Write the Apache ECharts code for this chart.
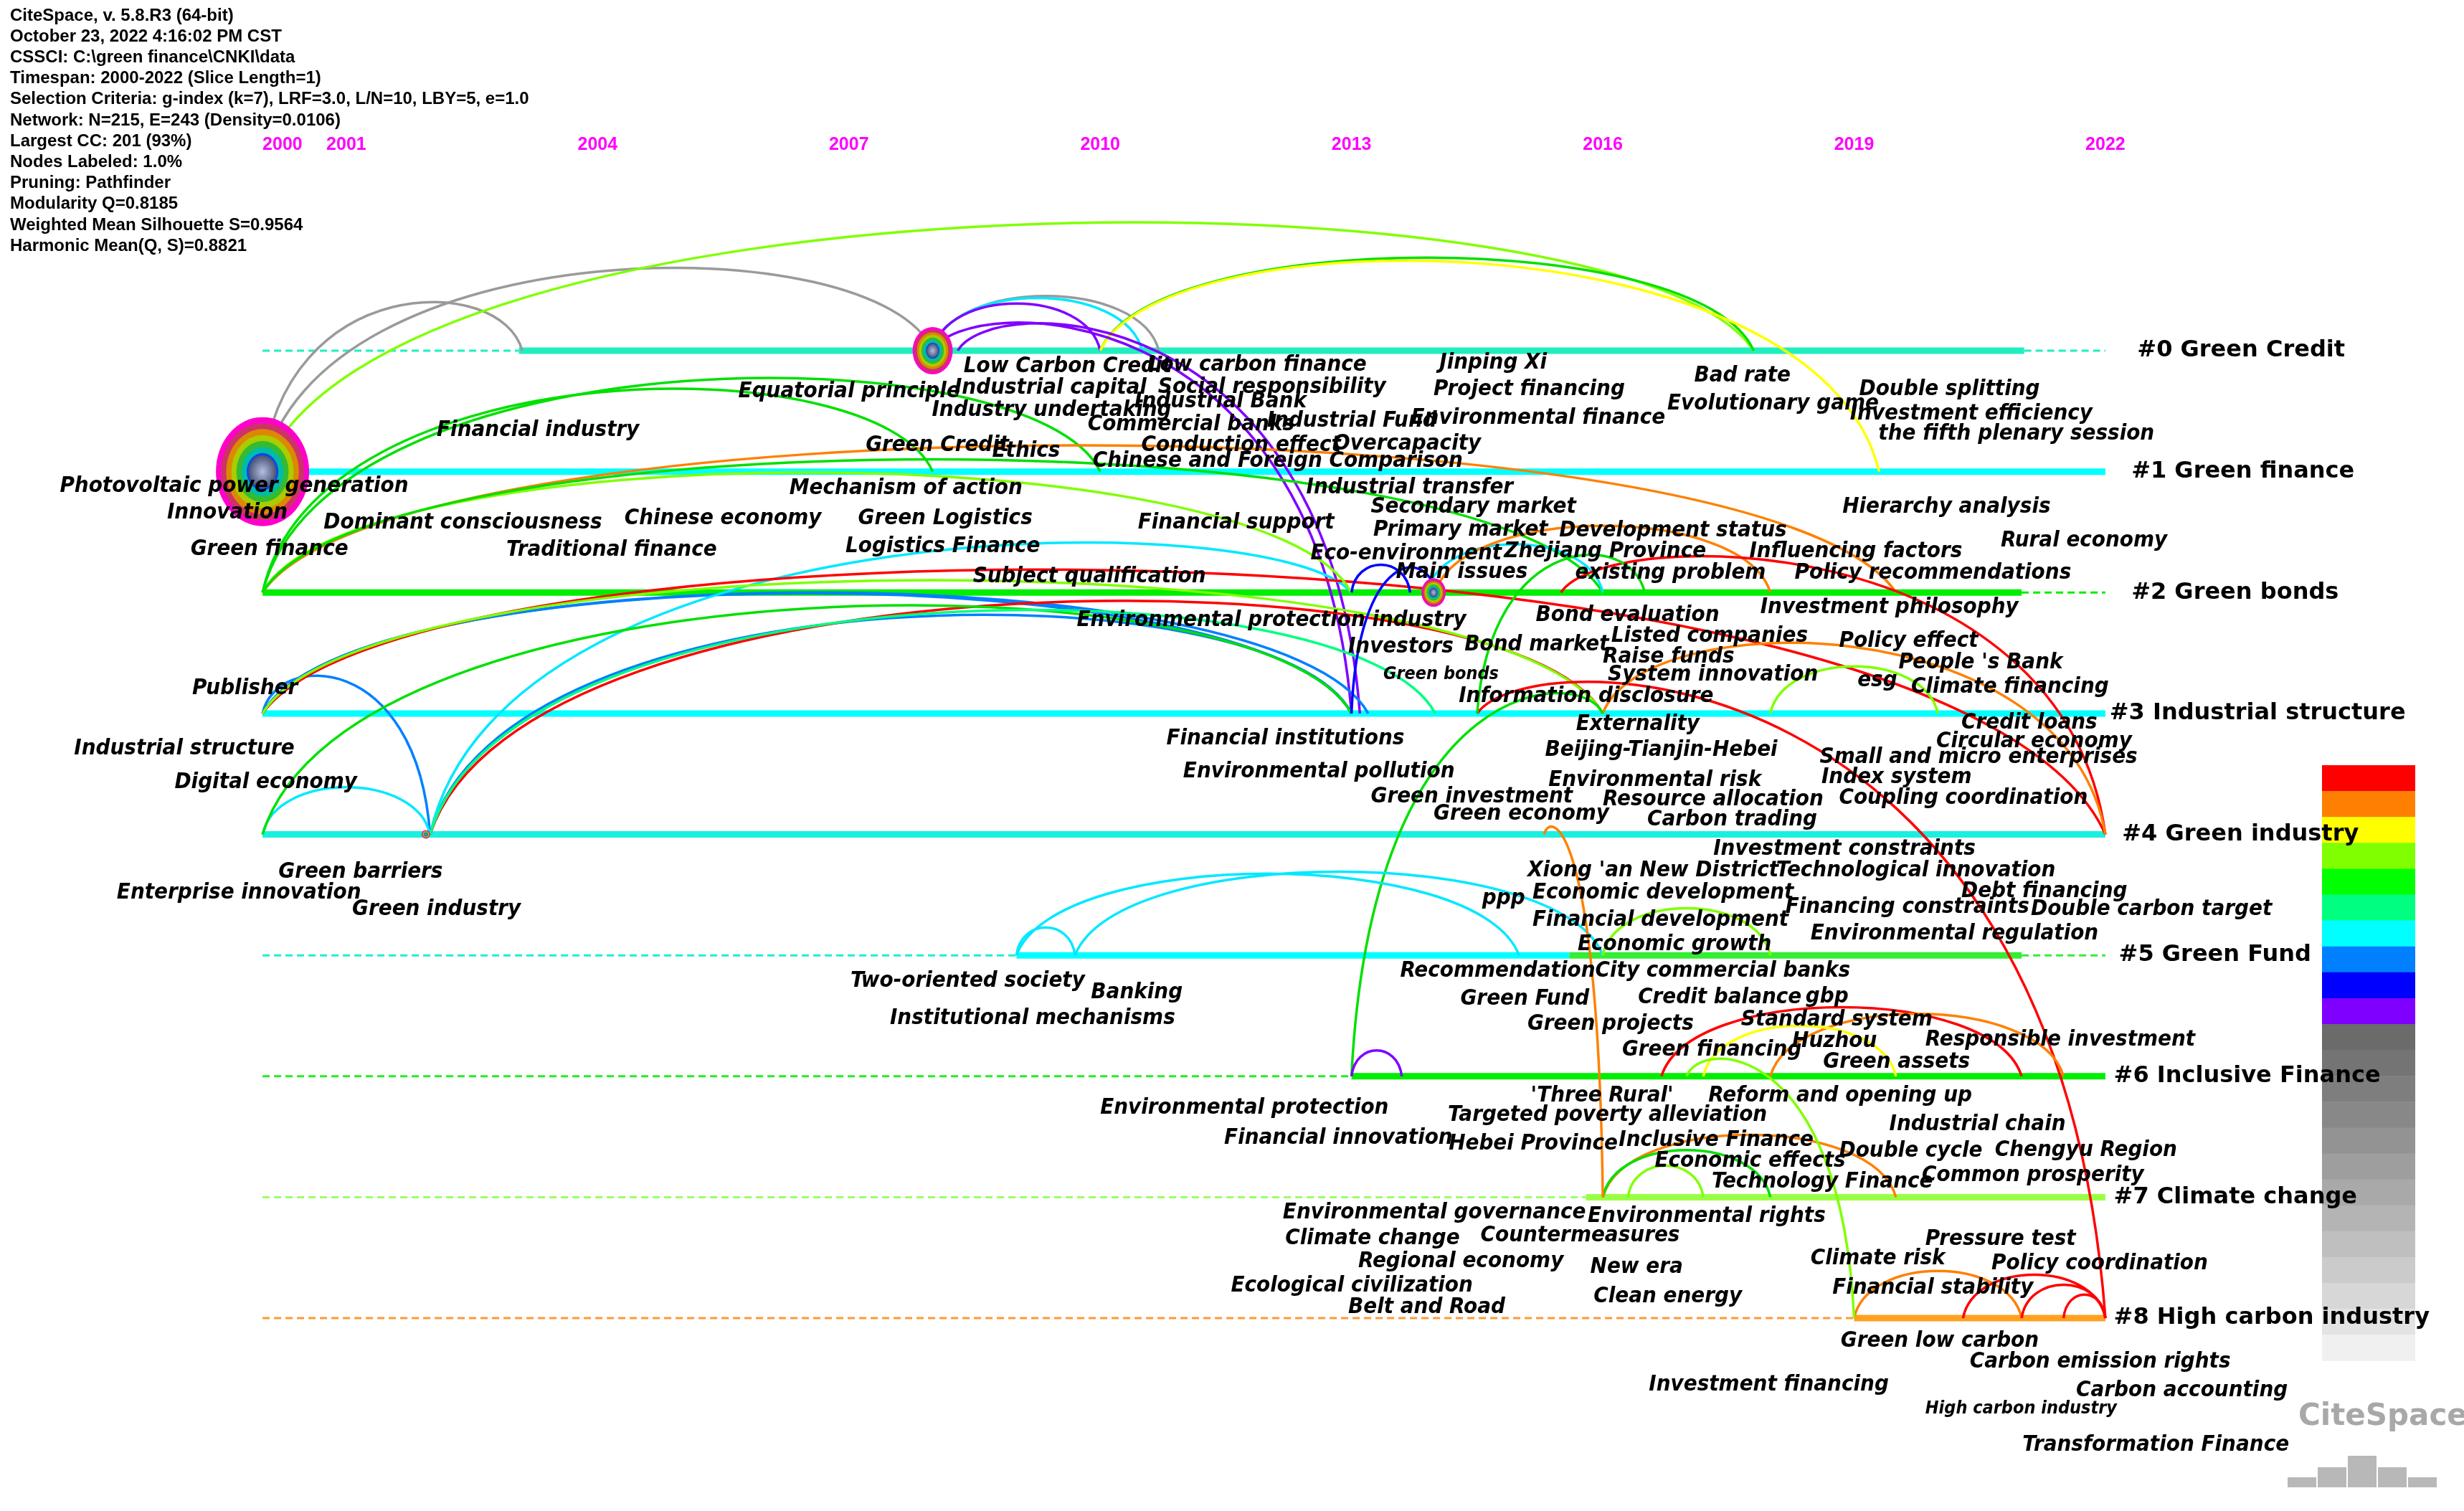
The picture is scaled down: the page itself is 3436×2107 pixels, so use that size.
<!DOCTYPE html>
<html><head><meta charset="utf-8">
<script src="https://cdn.jsdelivr.net/npm/echarts@6/dist/echarts.min.js"></script>
<style>html,body{margin:0;padding:0;background:#fff}#c{width:3436px;height:2107px}</style>
</head><body><div id="c"></div>
<script>
// ---------- DATA ----------
const headerLines = [
 "CiteSpace, v. 5.8.R3 (64-bit)",
 "October 23, 2022 4:16:02 PM CST",
 "CSSCI: C:\\green finance\\CNKI\\data",
 "Timespan: 2000-2022 (Slice Length=1)",
 "Selection Criteria: g-index (k=7), LRF=3.0, L/N=10, LBY=5, e=1.0",
 "Network: N=215, E=243 (Density=0.0106)",
 "Largest CC: 201 (93%)",
 "Nodes Labeled: 1.0%",
 "Pruning: Pathfinder",
 "Modularity Q=0.8185",
 "Weighted Mean Silhouette S=0.9564",
 "Harmonic Mean(Q, S)=0.8821"
];
const yearTicks = [2000, 2001, 2004, 2007, 2010, 2013, 2016, 2019, 2022];
const yearTickRow = -1.70;
const clusterNames = ["#0 Green Credit","#1 Green finance","#2 Green bonds","#3 Industrial structure","#4 Green industry","#5 Green Fund","#6 Inclusive Finance","#7 Climate change","#8 High carbon industry"];
const clusterLabelYear = [2022.38, 2022.31, 2022.31, 2022.05, 2022.2, 2022.16, 2022.1, 2022.1, 2022.1];
// timeline segments: [cluster, startYear, endYear, colour, dashed]
const timelineSegs = [
 [0,2000,2003.06,'#1fefbf',1],[0,2003.06,2021.03,'#1fefbf',0],[0,2021.03,2022,'#1fefbf',1],
 [1,2000,2022,'#00ffff',0],
 [2,2000,2021,'#00ee00',0],[2,2021,2022,'#00ee00',1],
 [3,2000,2022,'#00ffff',0],
 [4,2000,2022,'#19f0e0',0],
 [5,2000,2009.0,'#19f0d0',1],[5,2009.0,2015.6,'#00ffff',0],[5,2015.6,2021,'#33ee33',0],[5,2021,2022,'#33ee33',1],
 [6,2000,2013.0,'#22ee22',1],[6,2013.0,2022,'#00ee00',0],
 [7,2000,2015.8,'#99ff66',1],[7,2015.8,2022,'#99ff44',0],
 [8,2000,2019.0,'#ff9933',1],[8,2019.0,2022,'#ffa020',0]
];
// nodes: [year, cluster, width, height]
const nodes = [
 [2000, 1, 130, 152],
 [2008, 0, 56, 66],
 [2013.98, 2, 34, 40],
 [2001.95, 4, 12, 12]
];
// keyword labels: [text, year, clusterPos, small]
const keywords = [
 ["Low Carbon Credit",2008.37,0.13],["Low carbon finance",2010.56,0.12],["Jinping Xi",2014.05,0.10],
 ["Industrial capital",2008.26,0.31],["Social responsibility",2010.69,0.30],["Project financing",2013.98,0.32],
 ["Equatorial principle",2005.68,0.34],["Industry undertaking",2007.99,0.49],["Industrial Bank",2010.41,0.42],
 ["Bad rate",2017.09,0.21],["Evolutionary game",2016.77,0.44],["Double splitting",2019.06,0.32],
 ["Investment efficiency",2018.95,0.52],["the fifth plenary session",2019.29,0.69],["Commercial banks",2009.85,0.61],
 ["Industrial Fund",2011.99,0.58],["Environmental finance",2013.71,0.56],["Financial industry",2002.08,0.66],
 ["Conduction effect",2010.49,0.78],["Overcapacity",2012.78,0.77],["Green Credit",2007.20,0.78],
 ["Ethics",2008.71,0.83],["Chinese and Foreign Comparison",2009.91,0.91],
 ["Photovoltaic power generation",1997.58,1.12],["Innovation",1998.86,1.34],["Mechanism of action",2006.29,1.14],
 ["Industrial transfer",2012.46,1.13],["Secondary market",2013.23,1.29],["Hierarchy analysis",2018.86,1.29],
 ["Dominant consciousness",2000.73,1.42],["Chinese economy",2004.32,1.39],["Green Logistics",2007.11,1.39],
 ["Financial support",2010.45,1.42],["Primary market",2013.26,1.48],["Development status",2015.48,1.49],
 ["Green finance",1999.14,1.64],["Traditional finance",2002.91,1.65],["Logistics Finance",2006.96,1.62],
 ["Eco-environment",2012.51,1.68],["Zhejiang Province",2014.82,1.66],["Influencing factors",2017.75,1.66],
 ["Rural economy",2020.75,1.57],["Main issues",2013.53,1.83],["existing problem",2015.67,1.84],
 ["Policy recommendations",2018.29,1.84],["Subject qualification",2008.48,1.87],
 ["Investment philosophy",2017.88,2.12],["Bond evaluation",2015.20,2.19],["Environmental protection industry",2009.72,2.23],
 ["Listed companies",2016.10,2.36],["Policy effect",2018.82,2.40],["Investors",2012.96,2.45],
 ["Bond market",2014.35,2.43],["Raise funds",2016.00,2.53],["People 's Bank",2019.53,2.58],
 ["Green bonds",2013.38,2.68,1],["System innovation",2016.06,2.68],["esg",2019.04,2.73],
 ["Climate financing",2019.68,2.78],["Publisher",1999.16,2.79],["Information disclosure",2014.28,2.86],
 ["Credit loans",2020.28,3.08],["Externality",2015.68,3.09],["Financial institutions",2010.79,3.21],
 ["Circular economy",2019.98,3.23],["Industrial structure",1997.75,3.29],["Beijing-Tianjin-Hebei",2015.31,3.30],
 ["Small and micro enterprises",2018.59,3.36],["Environmental pollution",2010.99,3.48],["Index system",2018.61,3.53],
 ["Environmental risk",2015.35,3.55],["Digital economy",1998.95,3.57],["Green investment",2013.23,3.69],
 ["Resource allocation",2016.00,3.71],["Coupling coordination",2018.82,3.70],["Green economy",2013.98,3.83],
 ["Carbon trading",2016.53,3.88],["Investment constraints",2017.32,4.12],["Green barriers",2000.19,4.31],
 ["Xiong 'an New District",2015.10,4.30],["Technological innovation",2018.07,4.30],["Enterprise innovation",1998.26,4.48],
 ["Economic development",2015.16,4.48],["Debt financing",2020.28,4.47],["ppp",2014.56,4.53],
 ["Green industry",2001.07,4.62],["Financing constraints",2018.18,4.60],["Double carbon target",2021.11,4.62],
 ["Financial development",2015.16,4.71],["Economic growth",2015.70,4.91],["Environmental regulation",2018.48,4.82],
 ["Recommendation",2013.58,5.13],["City commercial banks",2015.91,5.13],["Two-oriented society",2007.02,5.21],
 ["Banking",2009.89,5.31],["Green Fund",2014.30,5.36],["Credit balance",2016.42,5.35],["gbp",2018.42,5.34],
 ["Institutional mechanisms",2007.49,5.52],["Standard system",2017.65,5.53],["Green projects",2015.10,5.57],
 ["Huzhou",2018.26,5.71],["Responsible investment",2019.85,5.70],["Green financing",2016.23,5.78],
 ["Green assets",2018.63,5.88],["'Three Rural'",2015.14,6.16],["Reform and opening up",2017.26,6.16],
 ["Environmental protection",2010.00,6.26],["Targeted poverty alleviation",2014.15,6.32],["Industrial chain",2019.42,6.40],
 ["Financial innovation",2011.48,6.51],["Inclusive Finance",2016.19,6.53],["Hebei Province",2014.16,6.56],
 ["Chengyu Region",2020.68,6.61],["Double cycle",2018.82,6.62],["Economic effects",2016.62,6.70],
 ["Common prosperity",2019.81,6.82],["Technology Finance",2017.30,6.87],["Environmental governance",2012.18,7.13],
 ["Environmental rights",2015.82,7.16],["Climate change",2012.21,7.34],["Countermeasures",2014.54,7.32],
 ["Pressure test",2019.85,7.35],["Regional economy",2013.08,7.53],["Climate risk",2018.48,7.51],
 ["Policy coordination",2020.64,7.55],["New era",2015.85,7.58],["Ecological civilization",2011.56,7.73],
 ["Financial stability",2018.74,7.75],["Belt and Road",2012.96,7.91],["Clean energy",2015.89,7.82],
 ["Green low carbon",2018.84,8.19],["Carbon emission rights",2020.38,8.36],["Investment financing",2016.55,8.55],
 ["Carbon accounting",2021.65,8.60],["High carbon industry",2019.85,8.75,1],["Transformation Finance",2021.01,9.05]
];
// links: [year1, cluster1, year2, cluster2, colourKey]
const links = [
 [2000,1,2008,0,'gray'],[2000,1,2003.1,0,'gray'],[2008,0,2010.7,0,'gray'],
 [2000,1,2017.8,0,'lime'],[2008,0,2010.5,0,'cyan'],[2008,0,2010,0,'purple'],
 [2010,0,2017.8,0,'green'],[2010,0,2019.3,1,'yellow'],[2008,0,2013,3,'purple'],[2008.3,0,2013.1,3,'purple'],
 [2000,2,2008,1,'green'],[2000,2,2010,1,'green'],[2000,2,2019.5,2,'orange'],
 [2000,3,2013,3,'dodger'],[2000,3,2013.2,3,'dodger'],[2002,4,2013,3,'dodger'],[2002,4,2013,2,'cyan'],
 [2000,3,2002,4,'dodger'],[2000,4,2002,4,'cyan'],[2000,3,2022,4,'red'],[2002,4,2016,3,'red'],
 [2000,2,2013,2,'lime'],[2000,2,2016,2,'green'],[2000,3,2016,3,'lime'],[2000,4,2013,3,'green'],
 [2002,4,2014,3,'spring'],[2013,2,2013.7,2,'blue'],[2013.9,2,2016,2,'cyan'],[2014,2,2018,2,'orange'],
 [2013,3,2014,2,'blue'],[2015.5,2,2022,4,'red'],[2014.5,3,2022,8,'red'],[2016,3,2022,4,'orange'],
 [2018,3,2020,3,'lime'],[2013,6,2016,3,'green'],[2013,6,2013.6,6,'purple'],
 [2009,5,2015,5,'cyan'],[2009.7,5,2016,5,'cyan'],[2009,5,2009.7,5,'cyan'],[2016,5,2018,5,'lime'],
 [2016.7,6,2021,6,'red'],[2018,6,2021.5,6,'orange'],[2017.2,6,2019.5,6,'yellow'],
 [2016,7,2019.5,7,'orange'],[2016,7,2018,7,'green'],[2016.3,7,2017.2,7,'lime'],[2015.3,4,2016,7,'orange'],
 [2019,8,2021,8,'orange'],[2020.3,8,2022,8,'red'],[2021,8,2022,8,'red'],[2021.5,8,2022,8,'red'],
 [2017,6,2019,8,'lime'],[2014.5,3,2016.5,2,'green']
];
const legendColors = ['#ff0000','#ff8000','#ffff00','#80ff00','#00ff00','#00ff80','#00ffff','#0080ff','#0000ff','#8000ff',
 '#6b6b6b','#747474','#7e7e7e','#888888','#939393','#9e9e9e','#a9a9a9','#b4b4b4','#bfbfbf','#cbcbcb','#d7d7d7','#e3e3e3','#f0f0f0'];

// ---------- STYLE ----------
const linkColor = {gray:'#9a9a9a',lime:'#80ff00',cyan:'#00e8ff',purple:'#8000ff',green:'#00e000',yellow:'#ffff00',
 orange:'#ff8000',dodger:'#0080ff',red:'#ff0000',spring:'#00ff80',blue:'#0000ff'};
const ringColors = ['#ff00cc','#cc3366','#dd8800','#aacc00','#33bb33','#00bbaa','#1144ee'];
const kwFont = '"Liberation Sans Narrow","Arial Narrow","DejaVu Sans Condensed",sans-serif';

const chart = echarts.init(document.getElementById('c'), null, {renderer:'canvas'});
const series = [];

series.push({type:'custom', clip:false, silent:true, z:2,
 data: timelineSegs,
 renderItem:(p,api)=>{
   const s=timelineSegs[p.dataIndex];
   const a=api.coord([s[1],s[0]]), b=api.coord([s[2],s[0]]);
   return {type:'line',shape:{x1:a[0],y1:a[1],x2:b[0],y2:b[1]},
     style:{stroke:s[3],lineWidth:s[4]?3:9,lineDash:s[4]?[10,6]:null}};
 }});

series.push({type:'custom', clip:false, silent:true, z:3,
 data: links,
 renderItem:(p,api)=>{
   const l=links[p.dataIndex];
   const a=api.coord([l[0],l[1]]), b=api.coord([l[2],l[3]]);
   const dx=Math.abs(b[0]-a[0]);
   const dy=Math.abs(b[1]-a[1]);
   const peak=4.3*Math.sqrt(dx)*(dy>200?0.6:1);
   const top=Math.min(a[1],b[1]);
   const cy=top-peak/0.75;
   const sg=b[0]>a[0]?1:-1;
   return {type:'bezierCurve',shape:{x1:a[0],y1:a[1],x2:b[0],y2:b[1],cpx1:a[0]+dx*0.08*sg,cpy1:cy,cpx2:b[0]-dx*0.08*sg,cpy2:cy},
     style:{stroke:linkColor[l[4]],lineWidth:3.5,fill:null}};
 }});

ringColors.forEach((col,i)=>{
  const f=1-i*0.11;
  series.push({type:'scatter', clip:false, silent:true, z:4+i*0.01,
    data: nodes.map(n=>[n[0],n[1],n[2],n[3]]),
    symbolSize:(v)=>[v[2]*f,v[3]*f],
    itemStyle:{color:col, opacity:1}});
});
series.push({type:'scatter', clip:false, silent:true, z:5,
  data: nodes.map(n=>[n[0],n[1],n[2],n[3]]),
  symbolSize:(v)=>[v[2]*0.3,v[3]*0.3],
  itemStyle:{color:{type:'radial',x:0.5,y:0.5,r:0.5,colorStops:[{offset:0,color:'#dddddd'},{offset:1,color:'#555555'}]}}});

series.push({type:'custom', clip:false, silent:true, z:10,
 data: keywords,
 renderItem:(p,api)=>{
   const k=keywords[p.dataIndex];
   const a=api.coord([k[1],k[2]]);
   return {type:'text',x:a[0],y:a[1],style:{text:k[0],fill:'#000',
     font:'italic bold '+(k[3]?25:31)+'px '+kwFont,align:'left',verticalAlign:'middle'}};
 }});

series.push({type:'custom', clip:false, silent:true, z:11,
 data: clusterNames,
 renderItem:(p,api)=>{
   const a=api.coord([clusterLabelYear[p.dataIndex],p.dataIndex]);
   return {type:'text',x:a[0],y:a[1],style:{text:clusterNames[p.dataIndex],fill:'#000',
     font:'bold 32px "DejaVu Sans",sans-serif',align:'left',verticalAlign:'middle'}};
 }});

series.push({type:'custom', clip:false, silent:true, z:11,
 data: yearTicks,
 renderItem:(p,api)=>{
   const a=api.coord([yearTicks[p.dataIndex],yearTickRow]);
   return {type:'text',x:a[0],y:a[1],style:{text:String(yearTicks[p.dataIndex]),fill:'#ff00ff',
     font:'bold 25px "Liberation Sans",Arial,sans-serif',align:p.dataIndex===0?'left':'center',verticalAlign:'middle'}};
 }});

const graphic = headerLines.map((t,i)=>({type:'text',left:14,top:10+i*29.2,
  style:{text:t,fill:'#000',font:'bold 24px "Liberation Sans",Arial,sans-serif'}}));
const barX=3238, barY=1067, barW=130, blockH=36.1;
legendColors.forEach((c,i)=>graphic.push({type:'rect',shape:{x:barX,y:barY+i*blockH,width:barW,height:blockH+0.5},style:{fill:c}}));
graphic.push({type:'text',left:3205,top:1955,style:{text:'CiteSpace',fill:'#a8a8a8',font:'bold 42px "DejaVu Sans",sans-serif'}});
[[3190,2060,40,14],[3232,2046,40,28],[3274,2030,40,44],[3316,2046,40,28],[3358,2060,40,14]].forEach(r=>
  graphic.push({type:'rect',shape:{x:r[0],y:r[1],width:r[2],height:r[3]},style:{fill:'#b8b8b8'}}));

chart.setOption({
  animation:false,
  backgroundColor:'#fff',
  grid:{left:0,right:0,top:0,bottom:0},
  xAxis:{type:'value',min:1996.866,max:2026.281,show:false},
  yAxis:{type:'value',min:-2.900,max:9.595,inverse:true,show:false},
  graphic:graphic,
  series:series
});
</script></body></html>
